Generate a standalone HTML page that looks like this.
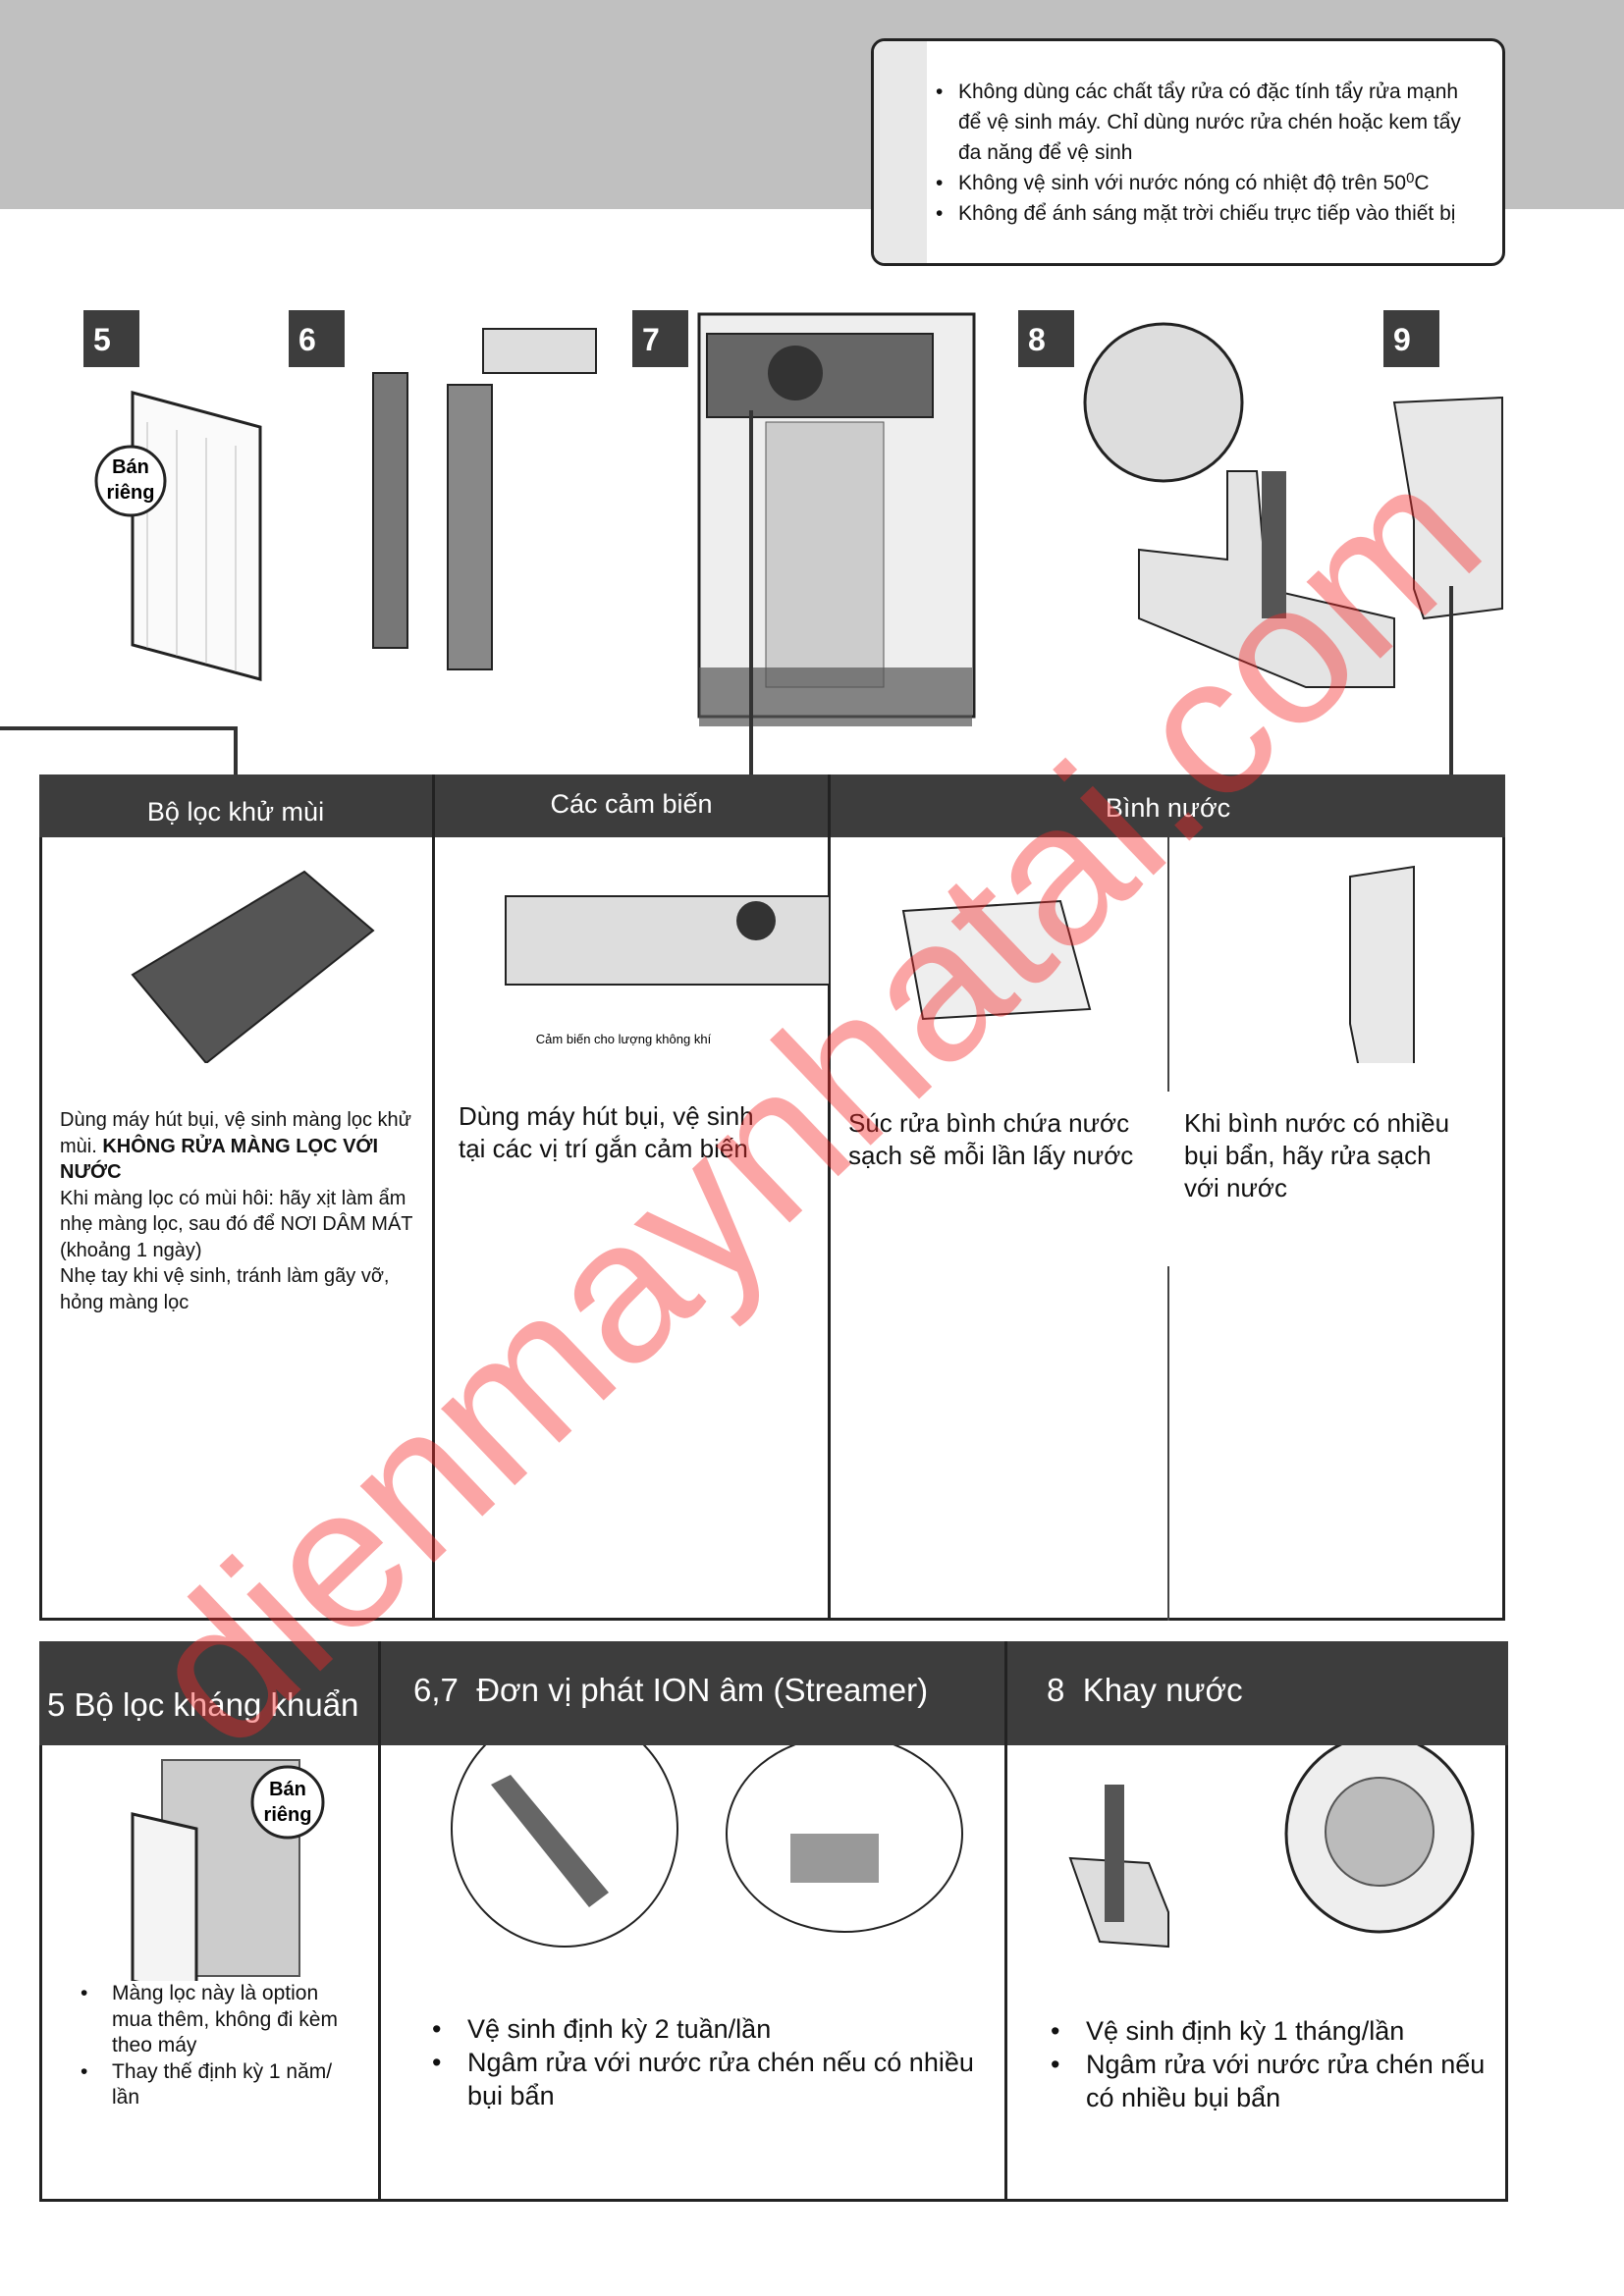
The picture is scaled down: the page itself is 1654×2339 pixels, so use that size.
<!DOCTYPE html>
<html><head><meta charset="utf-8"><style>
*{margin:0;padding:0;box-sizing:border-box}
body{width:1654px;height:2339px;position:relative;background:#fff;font-family:"Liberation Sans",sans-serif;color:#111;overflow:hidden}
.a{position:absolute}
.badge{position:absolute;width:57px;height:58px;background:#3d3d3d;color:#fff;font-weight:bold;font-size:32px;padding:12px 0 0 10px}
.hd{position:absolute;background:#3d3d3d;color:#fff}
.bd{border:3px solid #222}
.b{font-size:27px;line-height:34px}
ul{list-style:none}
li{position:relative;padding-left:36px}
li:before{content:"•";position:absolute;left:0}
</style></head><body>
<div class="a" style="left:0;top:0;width:1654px;height:213px;background:#c0c0c0"></div>
<div class="a" style="left:887px;top:39px;width:646px;height:232px;background:#fff;border:3px solid #222;border-radius:14px;overflow:hidden">
 <div class="a" style="left:0;top:0;width:54px;height:100%;background:#e8e8e8"></div>
 <ul class="a" style="left:63px;top:36px;width:555px;font-size:21px;line-height:31px">
  <li style="padding-left:23px">Không dùng các chất tẩy rửa có đặc tính tẩy rửa mạnh để vệ sinh máy. Chỉ dùng nước rửa chén hoặc kem tẩy đa năng để vệ sinh</li>
  <li style="padding-left:23px">Không vệ sinh với nước nóng có nhiệt độ trên 50<span style="font-size:15px;vertical-align:7px;line-height:0">0</span>C</li>
  <li style="padding-left:23px">Không để ánh sáng mặt trời chiếu trực tiếp vào thiết bị</li>
 </ul>
</div>
<div class="badge" style="left:85px;top:316px">5</div>
<div class="badge" style="left:294px;top:316px">6</div>
<div class="badge" style="left:644px;top:316px">7</div>
<div class="badge" style="left:1037px;top:316px">8</div>
<div class="badge" style="left:1409px;top:316px">9</div>
<svg class="a" style="left:0;top:300px" width="1654" height="500">
 <polygon points="135,100 265,135 265,392 135,357" fill="#fafafa" stroke="#222" stroke-width="3"/>
 <g stroke="#bbb" stroke-width="1">
  <line x1="150" y1="130" x2="150" y2="360"/><line x1="180" y1="138" x2="180" y2="368"/><line x1="210" y1="146" x2="210" y2="376"/><line x1="240" y1="154" x2="240" y2="384"/>
 </g>
 <circle cx="133" cy="190" r="35" fill="#fff" stroke="#222" stroke-width="3"/>
 <text x="133" y="182" font-size="20" font-weight="bold" text-anchor="middle" font-family="Liberation Sans">Bán</text>
 <text x="133" y="208" font-size="20" font-weight="bold" text-anchor="middle" font-family="Liberation Sans">riêng</text>
 <rect x="380" y="80" width="35" height="280" fill="#777" stroke="#222" stroke-width="2"/>
 <rect x="456" y="92" width="45" height="290" fill="#888" stroke="#222" stroke-width="2"/>
 <rect x="492" y="35" width="115" height="45" fill="#ddd" stroke="#222" stroke-width="2"/>
 <rect x="712" y="20" width="280" height="410" fill="#eee" stroke="#222" stroke-width="3"/>
 <rect x="720" y="40" width="230" height="85" fill="#666" stroke="#222" stroke-width="2"/>
 <circle cx="810" cy="80" r="28" fill="#333"/>
 <rect x="780" y="130" width="120" height="270" fill="#ccc" stroke="#555"/>
 <polygon points="712,380 990,380 990,440 712,440" fill="#555" opacity=".7"/>
 <circle cx="1185" cy="110" r="80" fill="#ddd" stroke="#222" stroke-width="3"/>
 <polygon points="1160,260 1250,270 1250,180 1280,180 1290,300 1420,330 1420,400 1330,400 1160,330" fill="#e4e4e4" stroke="#222" stroke-width="2"/>
 <rect x="1285" y="180" width="25" height="150" fill="#555"/>
 <polygon points="1420,110 1530,105 1530,320 1450,330 1440,300 1440,230" fill="#e8e8e8" stroke="#222" stroke-width="2"/>
</svg>
<div class="a" style="left:0;top:740px;width:242px;height:4px;background:#333"></div>
<div class="a" style="left:238px;top:740px;width:4px;height:50px;background:#333"></div>
<div class="a" style="left:763px;top:418px;width:4px;height:372px;background:#333"></div>
<div class="a" style="left:1476px;top:597px;width:4px;height:193px;background:#333"></div>
<div class="a bd" style="left:40px;top:789px;width:1493px;height:862px"></div>
<div class="hd" style="left:40px;top:789px;width:1493px;height:64px"></div>
<div class="a" style="left:440px;top:789px;width:3px;height:862px;background:#222"></div>
<div class="a" style="left:843px;top:789px;width:3px;height:862px;background:#222"></div>
<div class="a" style="left:1189px;top:853px;width:2px;height:259px;background:#444"></div>
<div class="a" style="left:1189px;top:1290px;width:2px;height:361px;background:#444"></div>
<div class="a" style="left:40px;top:812px;width:400px;text-align:center;color:#fff;font-size:27px">Bộ lọc khử mùi</div>
<div class="a" style="left:443px;top:804px;width:400px;text-align:center;color:#fff;font-size:27px">Các cảm biến</div>
<div class="a" style="left:846px;top:808px;width:687px;text-align:center;color:#fff;font-size:27px">Bình nước</div>
<svg class="a" style="left:40px;top:853px" width="1493" height="230">
 <polygon points="95,140 270,35 340,95 170,230" fill="#555" stroke="#222" stroke-width="2"/>
 <rect x="475" y="60" width="330" height="90" fill="#ddd" stroke="#222" stroke-width="2"/>
 <circle cx="730" cy="85" r="20" fill="#333"/>
 <text x="595" y="210" font-size="13" text-anchor="middle" font-family="Liberation Sans">Cảm biến cho lượng không khí</text>
 <polygon points="880,75 1040,65 1070,175 900,185" fill="#eee" stroke="#222" stroke-width="2"/>
 <polygon points="1335,40 1400,30 1400,235 1345,240 1335,190" fill="#e8e8e8" stroke="#222" stroke-width="2"/>
</svg>
<div class="a" style="left:61px;top:1128px;width:362px;font-size:20px;line-height:26.5px">Dùng máy hút bụi, vệ sinh màng lọc khử mùi. <b>KHÔNG RỬA MÀNG LỌC VỚI NƯỚC</b><br>Khi màng lọc có mùi hôi: hãy xịt làm ẩm nhẹ màng lọc, sau đó để NƠI DÂM MÁT (khoảng 1 ngày)<br>Nhẹ tay khi vệ sinh, tránh làm gãy vỡ, hỏng màng lọc</div>
<div class="a" style="left:467px;top:1121px;width:335px;font-size:26px;line-height:33px">Dùng máy hút bụi, vệ sinh tại các vị trí gắn cảm biến</div>
<div class="a" style="left:864px;top:1128px;width:320px;font-size:26px;line-height:33px">Súc rửa bình chứa nước sạch sẽ mỗi lần lấy nước</div>
<div class="a" style="left:1206px;top:1128px;width:285px;font-size:26px;line-height:33px">Khi bình nước có nhiều bụi bẩn, hãy rửa sạch với nước</div>
<div class="a bd" style="left:40px;top:1672px;width:1496px;height:571px"></div>
<div class="hd" style="left:40px;top:1672px;width:1496px;height:106px"></div>
<div class="a" style="left:385px;top:1672px;width:3px;height:571px;background:#222"></div>
<div class="a" style="left:1023px;top:1672px;width:3px;height:571px;background:#222"></div>
<div class="a" style="left:48px;top:1718px;color:#fff;font-size:33px">5 Bộ lọc kháng khuẩn</div>
<div class="a" style="left:421px;top:1703px;color:#fff;font-size:33px">6,7&nbsp; Đơn vị phát ION âm (Streamer)</div>
<div class="a" style="left:1066px;top:1703px;color:#fff;font-size:33px">8&nbsp; Khay nước</div>
<svg class="a" style="left:40px;top:1778px" width="1496" height="240">
 <rect x="125" y="15" width="140" height="220" fill="#ccc" stroke="#555" stroke-width="2"/>
 <polygon points="95,70 160,85 160,255 95,240" fill="#f4f4f4" stroke="#222" stroke-width="3"/>
 <circle cx="253" cy="58" r="36" fill="#fff" stroke="#222" stroke-width="3"/>
 <text x="253" y="51" font-size="20" font-weight="bold" text-anchor="middle" font-family="Liberation Sans">Bán</text>
 <text x="253" y="77" font-size="20" font-weight="bold" text-anchor="middle" font-family="Liberation Sans">riêng</text>
 <ellipse cx="535" cy="85" rx="115" ry="120" fill="#fff" stroke="#222" stroke-width="2"/>
 <polygon points="460,40 480,30 580,150 560,165" fill="#666"/>
 <ellipse cx="820" cy="90" rx="120" ry="100" fill="#fff" stroke="#222" stroke-width="2"/>
 <rect x="765" y="90" width="90" height="50" fill="#999"/>
 <polygon points="1050,115 1130,120 1150,170 1150,205 1080,200" fill="#ddd" stroke="#222" stroke-width="2"/>
 <rect x="1085" y="40" width="20" height="140" fill="#555"/>
 <ellipse cx="1365" cy="90" rx="95" ry="100" fill="#eee" stroke="#222" stroke-width="3"/>
 <circle cx="1365" cy="88" r="55" fill="#bbb" stroke="#555" stroke-width="2"/>
</svg>
<ul class="a" style="left:82px;top:2018px;width:274px;font-size:21px;line-height:26.5px">
 <li style="padding-left:32px">Màng lọc này là option mua thêm, không đi kèm theo máy</li>
 <li style="padding-left:32px">Thay thế định kỳ 1 năm/ lần</li>
</ul>
<ul class="a b" style="left:440px;top:2050px;width:580px">
 <li>Vệ sinh định kỳ 2 tuần/lần</li>
 <li>Ngâm rửa với nước rửa chén nếu có nhiều bụi bẩn</li>
</ul>
<ul class="a b" style="left:1070px;top:2052px;width:460px">
 <li>Vệ sinh định kỳ 1 tháng/lần</li>
 <li>Ngâm rửa với nước rửa chén nếu có nhiều bụi bẩn</li>
</ul>
<div class="a" style="left:828px;top:1126px;width:0;height:0">
 <div style="position:absolute;left:-1100px;top:-105px;width:2200px;text-align:center;font-size:205px;color:rgba(245,40,40,0.42);transform:rotate(-43.7deg);white-space:nowrap;line-height:210px">dienmaynhatai.com</div>
</div>
</body></html>
